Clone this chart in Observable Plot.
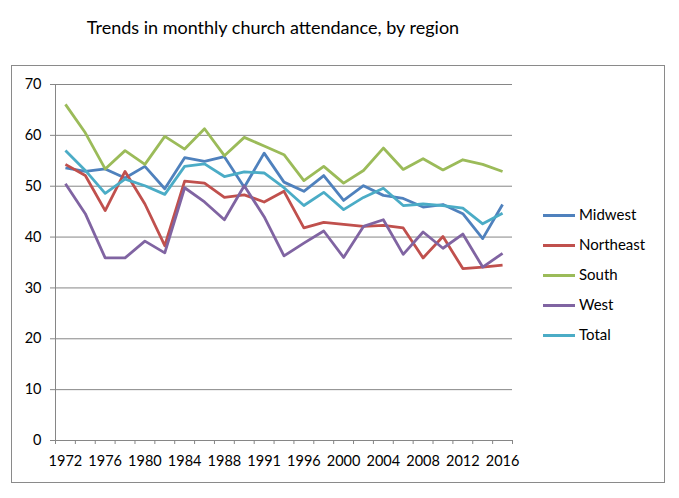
<!DOCTYPE html>
<html>
<head>
<meta charset="utf-8">
<script src="https://cdn.jsdelivr.net/npm/d3@7"></script>
<script src="https://cdn.jsdelivr.net/npm/@observablehq/plot@0.6"></script>
<style>
  html, body { margin: 0; padding: 0; background: #fff; }
  #wrap { position: relative; width: 679px; height: 498px; font-family: Lato, "Open Sans", sans-serif; color: #000; }
  #title { position: absolute; left: 0; width: 546px; top: 16px; text-align: center; font-size: 18px; }
  #frame { position: absolute; left: 11px; top: 65px; width: 652px; height: 416px; border: 1px solid #8a8a8a; }
  #frame svg { display: block; }
  .leg { position: absolute; left: 543px; font-size: 15px; height: 20px; line-height: 20px; white-space: nowrap; }
  .leg span.sw { display: inline-block; width: 32px; height: 3px; vertical-align: middle; margin-right: 4px; position: relative; top: -1px; }
</style>
</head>
<body>
<div id="wrap">
  <div id="title">Trends in monthly church attendance, by region</div>
  <div id="frame"></div>
</div>
<script>
const years = [1972,1974,1976,1978,1980,1982,1984,1986,1988,1990,1991,1993,1996,1998,2000,2002,2004,2006,2008,2010,2012,2014,2016];
const seriesNames = ["Midwest","Northeast","South","West","Total"];
const seriesColors = ["#4F81BD","#C0504D","#9BBB59","#8064A2","#4BACC6"];
const midwest   = [53.6,52.9,53.4,51.6,53.9,49.5,55.6,54.9,55.8,49.8,56.5,50.8,49.0,52.1,47.2,50.1,48.2,47.6,45.9,46.4,44.6,39.7,46.4];
const northeast = [54.3,52.1,45.2,52.9,46.5,38.3,51.0,50.6,47.8,48.3,46.9,49.0,41.8,42.9,42.5,42.1,42.3,41.8,35.9,40.1,33.8,34.1,34.5];
const south     = [66.1,60.5,53.4,57.0,54.3,59.8,57.3,61.3,56.0,59.6,57.9,56.2,51.1,53.9,50.6,53.1,57.5,53.3,55.4,53.2,55.2,54.3,52.9];
const west      = [50.5,44.6,35.9,35.9,39.2,36.9,49.7,46.9,43.4,50.1,44.0,36.3,38.8,41.2,36.0,42.1,43.4,36.6,41.0,37.8,40.6,34.1,36.8];
const total     = [57.0,53.1,48.6,51.4,50.1,48.4,53.9,54.4,51.9,52.8,52.6,49.7,46.2,48.8,45.4,47.8,49.6,46.2,46.5,46.2,45.7,42.6,44.7];
const yTicks = [0,10,20,30,40,50,60,70];
const xLabelIdx = d3.range(0, years.length, 2);
const xBounds = d3.range(-0.5, years.length, 1);

const allSeries = [midwest, northeast, south, west, total];
const lineMarks = allSeries.map((vals, k) =>
  Plot.line(vals.map((v, i) => ({i, v})), {
    x: "i", y: "v", stroke: seriesColors[k], strokeWidth: 2.8, strokeLinejoin: "round", strokeLinecap: "butt"
  })
);

const chart = Plot.plot({
  width: 652, height: 416,
  marginLeft: 43, marginRight: 152, marginTop: 18, marginBottom: 42,
  x: {type: "linear", domain: [-0.5, years.length - 0.5]},
  y: {domain: [0, 70]},
  style: {fontFamily: "Lato, 'Open Sans', sans-serif", fontSize: "14.5px", color: "#000", background: "#fff"},
  marks: [
    Plot.gridY({ticks: yTicks, stroke: "#868686", strokeOpacity: 1}),
    Plot.ruleX([-0.5], {stroke: "#868686"}),
    Plot.axisY({ticks: yTicks, tickSize: 5, tickPadding: 9, stroke: "#868686", fill: "#000", label: null}),
    Plot.axisX({ticks: xBounds, tickSize: 4, tickFormat: () => "", stroke: "#868686", label: null}),
    Plot.axisX({ticks: xLabelIdx, tickSize: 0, tickPadding: 15, tickFormat: i => String(years[i]), fill: "#000", label: null}),
    ...lineMarks
  ]
});
document.getElementById("frame").appendChild(chart);

const legYs = [214, 244, 274, 304, 334];
seriesNames.forEach((name, k) => {
  const d = document.createElement("div");
  d.className = "leg";
  d.style.top = (legYs[k] - 10) + "px";
  d.innerHTML = `<span class="sw" style="background:${seriesColors[k]}"></span>${name}`;
  document.getElementById("wrap").appendChild(d);
});
</script>
</body>
</html>
